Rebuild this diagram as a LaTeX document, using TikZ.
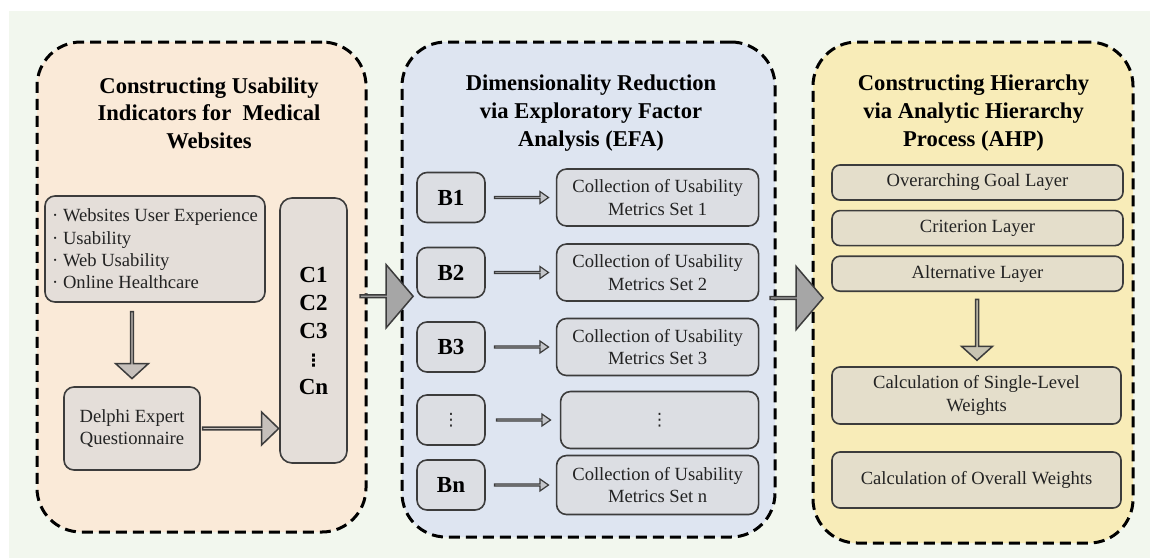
\documentclass[tikz,border=0pt]{standalone}
\usepackage{fontspec}
\setmainfont{Liberation Serif}
\newfontfamily\dotsfont{DejaVu Sans}
\usepackage{tikz}
\usetikzlibrary{shapes.arrows, positioning, calc}

\definecolor{bgGreen}{RGB}{242,247,238}
\definecolor{panA}{RGB}{250,234,216}
\definecolor{panB}{RGB}{222,229,241}
\definecolor{panC}{RGB}{248,236,184}
\definecolor{fillA}{RGB}{228,222,217}
\definecolor{fillB}{RGB}{220,222,227}
\definecolor{fillC}{RGB}{228,222,203}
\definecolor{arrA}{RGB}{198,192,187}
\definecolor{arrB}{RGB}{196,198,203}
\definecolor{arrC}{RGB}{200,196,178}
\definecolor{arrBig}{RGB}{166,166,166}
\definecolor{edgeGray}{RGB}{60,60,60}
\definecolor{txtDark}{RGB}{35,35,35}

\newcommand{\vdts}{{\dotsfont\fontsize{8.5}{10}\selectfont ⋮}}

\begin{document}
\begin{tikzpicture}[
    x=0.5pt, y=-0.5pt,
    every node/.style={font=\fontsize{9.3}{11.2}\selectfont, text=txtDark},
    panel/.style={rectangle, rounded corners=22pt, draw=black, line width=1.5pt, dash pattern=on 5.5pt off 3pt},
    ptitle/.style={font=\fontsize{11.3}{13.8}\selectfont\bfseries, align=center, text=black},
    boxA/.style={rectangle, rounded corners=5pt, draw=edgeGray, line width=0.8pt, fill=fillA, align=center, inner sep=0pt},
    boxB/.style={boxA, fill=fillB},
    boxC/.style={boxA, fill=fillC, rounded corners=4pt},
    lbl/.style={font=\fontsize{11.5}{14}\selectfont\bfseries, text=black},
    blkArr/.style={single arrow, draw=edgeGray, line width=0.75pt, inner sep=0pt, single arrow head indent=0pt},
    bigArr/.style={blkArr, fill=arrBig, minimum height=26.5pt, minimum width=31.5pt, single arrow head extend=7.75pt, single arrow tip angle=99},
    thinArr/.style={blkArr, fill=arrB, line width=0.6pt, minimum height=27pt, minimum width=6pt, single arrow head extend=1.5pt, single arrow tip angle=70}
]
% ============== Fondo ==============
\useasboundingbox (0,0) rectangle (1150,558);
\fill[bgGreen] (9,11) rectangle (1150,558);

% ============== Paneles ==============
\node[panel, fill=panA, minimum width=164.5pt, minimum height=245pt] (panA) at (201.5,287) {};
\node[panel, fill=panB, minimum width=186.5pt, minimum height=247.5pt] (panB) at (588.5,289.5) {};
\node[panel, fill=panC, minimum width=160pt, minimum height=250.5pt] (panC) at (973,292.5) {};

\node[ptitle] (ttlA) at (209,113) {Constructing Usability\\Indicators for~ Medical\\Websites};
\node[ptitle] (ttlB) at (591,113) {Dimensionality Reduction\\via Exploratory Factor\\Analysis (EFA)};
\node[ptitle] (ttlC) at (973.5,113) {Constructing Hierarchy\\via Analytic Hierarchy\\Process (AHP)};

% ============== Indicadores (Izquierda) ==============
\node[boxA, minimum width=110pt, minimum height=53pt, align=left] (kw) at (155,249)
    {· Websites User Experience\\· Usability\\· Web Usability\\· Online Healthcare};
\node[boxA, minimum width=68pt, minimum height=41.5pt] (delphi) at (132,428.5) {Delphi Expert\\Questionnaire};
\node[boxA, rounded corners=6pt, minimum width=33.5pt, minimum height=132.5pt, lbl] (cbox) at (313.5,330.5)
    {C1\\C2\\C3\\\vdts\\Cn};

\node[blkArr, fill=arrA, rotate=-90, minimum height=33.5pt, minimum width=16.5pt, single arrow head extend=4.25pt, single arrow tip angle=95]
    (arKD) at ($(delphi.north)!0.5!(delphi.north |- kw.south)$) {};
\node[blkArr, fill=arrA, minimum height=38pt, minimum width=16.5pt, single arrow head extend=4.5pt, single arrow tip angle=88]
    (arDC) at ($(delphi.east)!0.5!(delphi.east -| cbox.west)$) {};

% ============== EFA (Centro) ==============
\node[boxB, minimum width=34pt, minimum height=25pt, lbl] (b1) at (451,197.5) {B1};
\node[boxB, minimum width=34pt, minimum height=25pt, lbl] (b2) at (451,272.5) {B2};
\node[boxB, minimum width=34pt, minimum height=25pt, lbl] (b3) at (451,347) {B3};
\node[boxB, minimum width=34pt, minimum height=25pt] (bd) at (451,420) {\vdts};
\node[boxB, minimum width=34pt, minimum height=25pt, lbl] (bn) at (451,485) {Bn};

\node[boxB, minimum width=101pt, minimum height=28.5pt, right=35pt of b1] (set1) {Collection of Usability\\Metrics Set 1};
\node[boxB, minimum width=101pt, minimum height=28.5pt, right=35pt of b2] (set2) {Collection of Usability\\Metrics Set 2};
\node[boxB, minimum width=101pt, minimum height=28.5pt, right=35pt of b3] (set3) {Collection of Usability\\Metrics Set 3};
\node[boxB, minimum width=99pt, minimum height=28.5pt, right=37pt of bd] (setd) {\vdts};
\node[boxB, minimum width=101pt, minimum height=29.5pt, right=35pt of bn] (setn) {Collection of Usability\\Metrics Set n};

\node[thinArr] (ar1) at ($(b1.east)!0.5!(set1.west)$) {};
\node[thinArr] (ar2) at ($(b2.east)!0.5!(set2.west)$) {};
\node[thinArr] (ar3) at ($(b3.east)!0.5!(set3.west)$) {};
\node[thinArr] (ard) at ($(bd.east)!0.5!(setd.west)$) {};
\node[thinArr] (arn) at ($(bn.east)!0.5!(setn.west)$) {};

% ============== AHP (Derecha) ==============
\node[boxC, minimum width=145.5pt, minimum height=17.5pt] (goal) at (977.5,182.5) {Overarching Goal Layer};
\node[boxC, minimum width=145.5pt, minimum height=17.5pt, below=4.5pt of goal] (crit) {Criterion Layer};
\node[boxC, minimum width=145.5pt, minimum height=17.5pt, below=4.5pt of crit] (alt) {Alternative Layer};
\node[boxC, minimum width=144.5pt, minimum height=28.5pt] (single) at (976.5,395.5) {Calculation of Single-Level\\Weights};
\node[boxC, minimum width=144.5pt, minimum height=28pt] (overall) at (976.5,480) {Calculation of Overall Weights};

\node[blkArr, fill=arrC, rotate=-90, minimum height=30.5pt, minimum width=15.5pt, single arrow head extend=3.5pt, single arrow tip angle=96]
    (arAS) at ($(alt.south)!0.5!(single.north)$) {};

% ============== Flechas entre paneles ==============
\node[bigArr, xshift=1pt, yshift=-4pt] (arAB) at ($(panA.east)!0.5!(panB.west)$) {};
\node[bigArr, xshift=1pt, yshift=-3.5pt] (arBC) at ($(panB.east)!0.5!(panC.west)$) {};
\end{tikzpicture}
\end{document}
